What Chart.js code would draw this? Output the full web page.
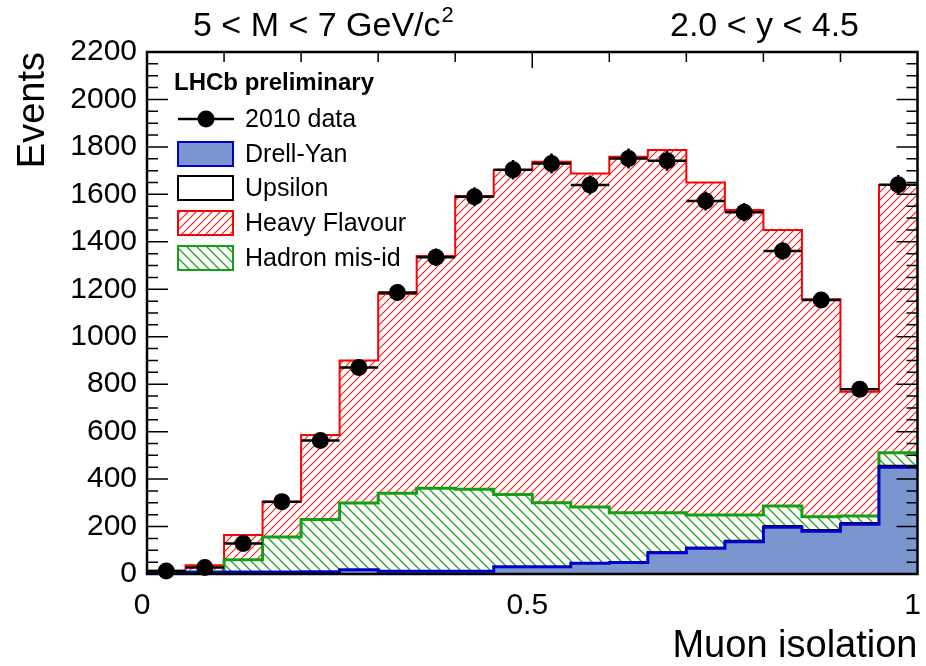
<!DOCTYPE html>
<html><head><meta charset="utf-8">
<script src="https://cdn.jsdelivr.net/npm/chart.js@4/dist/chart.umd.min.js"></script>
<style>html,body{margin:0;padding:0;background:#fff;}#wrap{width:926px;height:666px;}</style>
</head><body><div id="wrap"><canvas id="c" width="926" height="666"></canvas></div>
<script>
// ---- data ----
const binEdges = [0,0.05,0.1,0.15,0.2,0.25,0.3,0.35,0.4,0.45,0.5,0.55,0.6,0.65,0.7,0.75,0.8,0.85,0.9,0.95,1.0];
const binCentres = [0.025,0.075,0.125,0.175,0.225,0.275,0.325,0.375,0.425,0.475,0.525,0.575,0.625,0.675,0.725,0.775,0.825,0.875,0.925,0.975];
const data2010 = [13,27,129,305,563,870,1186,1335,1590,1704,1730,1639,1751,1742,1572,1525,1361,1155,779,1641];
const data2010Err = [4,5,11,17,24,29,34,37,40,41,42,40,42,42,40,39,37,34,28,41];
const drellYan = [5,6,8,8,10,18,12,12,12,31,31,45,48,90,108,136,197,180,210,450];
const upsilon = [0,0,0,0,0,0,0,0,0,0,0,0,0,3,4,5,6,6,6,7];
const hadronMisId = [3,4,52,148,220,281,328,349,345,304,269,237,210,165,137,108,84,55,28,54];
const heavyFlavour = [6,27,104,149,356,601,840,979,1236,1368,1437,1406,1500,1529,1401,1285,1163,917,524,1128];
const xTickValues = [0,0.5,1];
const xTickLabels = ['0','0.5','1'];
const yTickLabels = ['0','200','400','600','800','1000','1200','1400','1600','1800','2000','2200'];
const legendLabels = ['2010 data','Drell-Yan','Upsilon','Heavy Flavour','Hadron mis-id'];
const experimentLabel = 'LHCb preliminary';
const massLabel = '5 < M < 7 GeV/c';
const rapidityLabel = '2.0 < y < 4.5';

const FONT = "'Liberation Sans', Arial, Helvetica, sans-serif";

function cumulate(...arrs){ return arrs[0].map((_,i)=>arrs.reduce((s,a)=>s+a[i],0)); }
const topDY = drellYan;
const topUps = cumulate(drellYan, upsilon);
const topHad = cumulate(drellYan, upsilon, hadronMisId);
const topHF = cumulate(drellYan, upsilon, hadronMisId, heavyFlavour);
function steps(vals){
  const pts = vals.map((v,i)=>({x:binEdges[i], y:v}));
  pts.push({x:binEdges[vals.length], y:vals[vals.length-1]});
  return pts;
}
function hatch(color, size, forward, lw){
  const c=document.createElement('canvas'); c.width=size; c.height=size;
  const g=c.getContext('2d'); g.strokeStyle=color; g.lineWidth=lw; g.beginPath();
  for(const a of [-size,0,size]){
    if(forward){ g.moveTo(a-2,size+2); g.lineTo(a+size+2,-2); }
    else { g.moveTo(a-2,-2); g.lineTo(a+size+2,size+2); }
  }
  g.stroke();
  return g.createPattern(c,'repeat');
}
const ctx = document.getElementById('c').getContext('2d');
const redHatch = hatch('#ff2020', 8, true, 1.2);
const greenHatch = hatch('#22a322', 10, false, 1.3);
const DY_FILL = '#7b96cf', DY_LINE = '#0000cc', HAD_LINE = '#14a014', HF_LINE = '#ff0000';

const errorBars = {
  id:'errorBars',
  beforeDatasetDraw(chart, args){
    if(args.index !== 4) return;
    const xs=chart.scales.x, ys=chart.scales.y, c=chart.ctx;
    c.save(); c.strokeStyle='#000'; c.lineWidth=2.5; c.beginPath();
    data2010.forEach((v,i)=>{
      const y=ys.getPixelForValue(v);
      c.moveTo(xs.getPixelForValue(binEdges[i]), y); c.lineTo(xs.getPixelForValue(binEdges[i+1]), y);
      const xc=xs.getPixelForValue(binCentres[i]);
      c.moveTo(xc, ys.getPixelForValue(v-data2010Err[i])); c.lineTo(xc, ys.getPixelForValue(v+data2010Err[i]));
    });
    c.stroke(); c.restore();
  }
};

const frameAndDecor = {
  id:'frameAndDecor',
  afterDraw(chart){
    const c=chart.ctx, a=chart.chartArea, xs=chart.scales.x, ys=chart.scales.y;
    c.save();
    // ticks
    c.strokeStyle='#000'; c.lineWidth=1.5; c.beginPath();
    for(let v=0; v<=2200; v+=50){
      const y=ys.getPixelForValue(v); const len=(v%200===0)?21:11;
      c.moveTo(a.left,y); c.lineTo(a.left+len,y);
      c.moveTo(a.right,y); c.lineTo(a.right-len,y);
    }
    for(let k=1;k<10;k++){
      const x=xs.getPixelForValue(k/10); const len=(k===5)?16:10;
      c.moveTo(x,a.top); c.lineTo(x,a.top+len);
    }
    c.stroke();
    // frame
    c.lineWidth=2.5; c.strokeRect(a.left,a.top,a.right-a.left,a.bottom-a.top);
    // top labels
    c.fillStyle='#000'; c.textBaseline='alphabetic'; c.textAlign='left';
    c.font='34px '+FONT;
    c.fillText(massLabel,193,36);
    const w=c.measureText(massLabel).width;
    c.font='22px '+FONT; c.fillText('2',193+w+1,22);
    c.font='34px '+FONT; c.fillText(rapidityLabel,670,36);
    // legend
    c.font='bold 24px '+FONT; c.textBaseline='middle';
    c.fillText(experimentLabel,174,83);
    c.font='25px '+FONT;
    c.lineWidth=2.5; c.beginPath(); c.moveTo(178,119); c.lineTo(234,119); c.stroke();
    c.beginPath(); c.arc(206,119,8.5,0,Math.PI*2); c.fill();
    c.fillText(legendLabels[0],245,120);
    const boxes=[
      {y:142, fill:DY_FILL, line:DY_LINE, t:legendLabels[1]},
      {y:176, fill:'#fff', line:'#000', t:legendLabels[2]},
      {y:211, fill:redHatch, line:HF_LINE, t:legendLabels[3]},
      {y:246, fill:greenHatch, line:HAD_LINE, t:legendLabels[4]}
    ];
    boxes.forEach(b=>{
      c.fillStyle=b.fill; c.fillRect(178,b.y,55,24);
      c.strokeStyle=b.line; c.lineWidth=2; c.strokeRect(178,b.y,55,24);
      c.fillStyle='#000'; c.fillText(b.t,245,b.y+13);
    });
    c.restore();
  }
};

new Chart(ctx,{
  type:'line',
  data:{datasets:[
    {label:'Drell-Yan', data:steps(topDY), stepped:true, borderColor:DY_LINE, borderWidth:3, backgroundColor:DY_FILL, fill:'origin', pointRadius:0},
    {label:'Upsilon', data:steps(topUps), stepped:true, borderColor:'#000', borderWidth:1.5, backgroundColor:'#fff', fill:'-1', pointRadius:0},
    {label:'Hadron mis-id', data:steps(topHad), stepped:true, borderColor:HAD_LINE, borderWidth:3, backgroundColor:greenHatch, fill:'-1', pointRadius:0},
    {label:'Heavy Flavour', data:steps(topHF), stepped:true, borderColor:HF_LINE, borderWidth:2, backgroundColor:redHatch, fill:'-1', pointRadius:0},
    {type:'scatter', label:'2010 data', data:binCentres.map((x,i)=>({x:x,y:data2010[i]})), pointRadius:8.5, pointHoverRadius:8.5, pointBackgroundColor:'#000', pointBorderColor:'#000', pointBorderWidth:0, showLine:false, order:-1, clip:false}
  ]},
  options:{
    responsive:false, animation:false, devicePixelRatio:1,
    layout:{padding:{left:0,top:52,right:8,bottom:0}},
    plugins:{legend:{display:false}, tooltip:{enabled:false}},
    scales:{
      x:{type:'linear', min:0, max:1,
        grid:{display:false, drawTicks:false}, border:{display:false},
        afterBuildTicks:s=>{ s.ticks = xTickValues.map(v=>({value:v})); },
        ticks:{callback:(v,i)=>xTickLabels[i], font:{size:30,family:FONT}, color:'#000', padding:14, maxRotation:0, autoSkip:false, labelOffset:-5},
        title:{display:true, text:'Muon isolation', align:'end', color:'#000', font:{size:38,family:FONT,lineHeight:1}, padding:{top:0,bottom:0}},
        afterFit:s=>{ s.height=92; s.paddingLeft=0; s.paddingRight=0; }
      },
      y:{min:0, max:2200,
        grid:{display:false, drawTicks:false}, border:{display:false},
        ticks:{stepSize:200, callback:(v,i)=>yTickLabels[i], font:{size:30,family:FONT}, color:'#000', padding:10},
        title:{display:true, text:'Events', align:'end', color:'#000', font:{size:38,family:FONT,lineHeight:1.2}, padding:{top:11,bottom:0}},
        afterFit:s=>{ s.width=147; s.paddingTop=0; s.paddingBottom=0; }
      }
    }
  },
  plugins:[errorBars, frameAndDecor]
});
</script></body></html>
